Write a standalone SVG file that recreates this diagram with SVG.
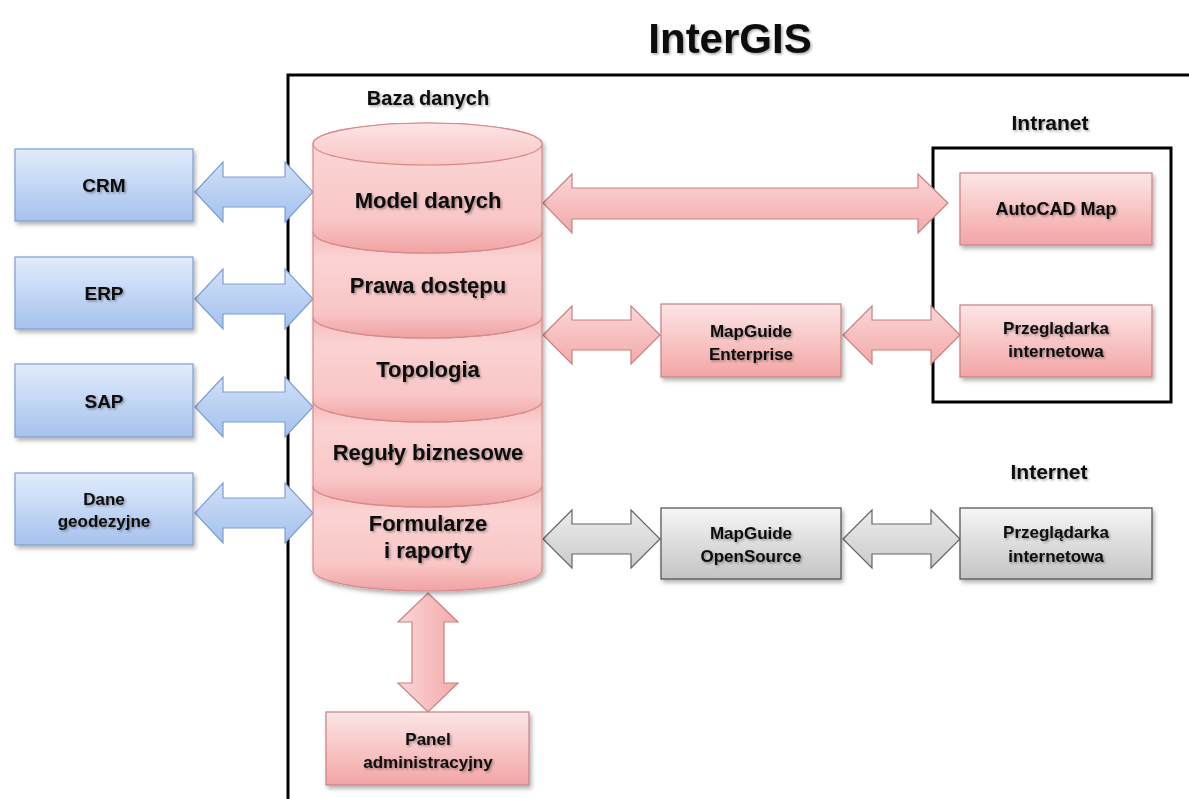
<svg xmlns="http://www.w3.org/2000/svg" width="1189" height="799" viewBox="0 0 1189 799">
<defs>
<linearGradient id="gBlue" x1="0" y1="0" x2="0" y2="1"><stop offset="0" stop-color="#e1ecfc"/><stop offset="1" stop-color="#a6c2ed"/></linearGradient>
<linearGradient id="gPink" x1="0" y1="0" x2="0" y2="1"><stop offset="0" stop-color="#fde6e6"/><stop offset="1" stop-color="#f3a5a5"/></linearGradient>
<linearGradient id="gGray" x1="0" y1="0" x2="0" y2="1"><stop offset="0" stop-color="#f6f6f6"/><stop offset="1" stop-color="#c4c4c4"/></linearGradient>
<linearGradient id="gSeg" x1="0" y1="0" x2="0" y2="1"><stop offset="0" stop-color="#f6b9b9"/><stop offset="0.25" stop-color="#fbd3d3"/><stop offset="0.75" stop-color="#f9c6c6"/><stop offset="1" stop-color="#f1a2a2"/></linearGradient>
<linearGradient id="gTop" x1="0" y1="0" x2="0" y2="1"><stop offset="0" stop-color="#fde4e4"/><stop offset="1" stop-color="#f8c4c4"/></linearGradient>
<linearGradient id="gArrP" x1="0" y1="0" x2="0" y2="1"><stop offset="0" stop-color="#fbd6d6"/><stop offset="1" stop-color="#f3aaaa"/></linearGradient>
<linearGradient id="gArrPV" x1="0" y1="0" x2="1" y2="0"><stop offset="0" stop-color="#fbd6d6"/><stop offset="1" stop-color="#f3aaaa"/></linearGradient>
<linearGradient id="gArrB" x1="0" y1="0" x2="0" y2="1"><stop offset="0" stop-color="#d0e0f8"/><stop offset="1" stop-color="#a4c1ed"/></linearGradient>
<linearGradient id="gArrG" x1="0" y1="0" x2="0" y2="1"><stop offset="0" stop-color="#ececec"/><stop offset="1" stop-color="#cbcbcb"/></linearGradient>
<filter id="sh" x="-10%" y="-10%" width="130%" height="140%"><feDropShadow dx="2" dy="3" stdDeviation="2" flood-color="#000" flood-opacity="0.3"/></filter>
<filter id="tsh" x="-10%" y="-20%" width="130%" height="160%"><feDropShadow dx="1.5" dy="1.5" stdDeviation="1.2" flood-color="#000" flood-opacity="0.35"/></filter>
</defs>
<style>
text{font-family:"Liberation Sans",Arial,sans-serif;font-weight:bold;fill:#0a0a0a;text-anchor:middle;filter:url(#tsh)}
.lbl{font-size:17px}
.big{font-size:19px}
.cyl{font-size:22px}
.hd{font-size:21px}
.boxB{fill:url(#gBlue);stroke:#7c9ed3;stroke-width:1.2;filter:url(#sh)}
.boxP{fill:url(#gPink);stroke:#c98080;stroke-width:1.2;filter:url(#sh)}
.boxG{fill:url(#gGray);stroke:#4d4d4d;stroke-width:1.2;filter:url(#sh)}
.seg{fill:url(#gSeg);stroke:#d48a8a;stroke-width:1.2}
.arrP{fill:url(#gArrP);stroke:#cc8080;stroke-width:1.2}
.arrB{fill:url(#gArrB);stroke:#7c9ed3;stroke-width:1.2}
.arrG{fill:url(#gArrG);stroke:#666;stroke-width:1.2}
.frame{fill:none;stroke:#000;stroke-width:3}
</style>
<rect width="1189" height="799" fill="#fff"/>
<text x="730" y="53" style="font-size:42px">InterGIS</text>
<path class="frame" d="M288,799 L288,75 L1189,75"/>
<g id="intranet">
<rect class="frame" x="933" y="148" width="238" height="254"/>
<text class="hd" x="1050" y="130">Intranet</text>
</g>
<text class="hd" x="1049" y="479">Internet</text>
<g id="connectors">
<path class="arrB" d="M195,192 L223,162 L223,177 L285,177 L285,162 L313,192 L285,222 L285,207 L223,207 L223,222 Z"/>
<path class="arrB" d="M195,299 L223,269 L223,284 L285,284 L285,269 L313,299 L285,329 L285,314 L223,314 L223,329 Z"/>
<path class="arrB" d="M195,407 L223,377 L223,392 L285,392 L285,377 L313,407 L285,437 L285,422 L223,422 L223,437 Z"/>
<path class="arrB" d="M195,513 L223,483 L223,498 L285,498 L285,483 L313,513 L285,543 L285,528 L223,528 L223,543 Z"/>
<path class="arrP" d="M543,203 L572,174 L572,188 L918,188 L918,174 L948,203 L918,233 L918,219 L572,219 L572,233 Z"/>
<path class="arrP" d="M543,335 L572,306 L572,320 L631,320 L631,306 L660,335 L631,364 L631,350 L572,350 L572,364 Z"/>
<path class="arrP" d="M843,335 L872,306 L872,320 L931,320 L931,306 L960,335 L931,364 L931,350 L872,350 L872,364 Z"/>
<path class="arrG" d="M543,539 L572,510 L572,524 L631,524 L631,510 L660,539 L631,568 L631,554 L572,554 L572,568 Z"/>
<path class="arrG" d="M843,539 L872,510 L872,524 L931,524 L931,510 L960,539 L931,568 L931,554 L872,554 L872,568 Z"/>
<path style="fill:url(#gArrPV);stroke:#cc8080;stroke-width:1.2" d="M428,593 L458,622 L444,622 L444,683 L458,683 L428,712 L398,683 L412,683 L412,622 L398,622 Z"/>
</g>
<g id="baza-danych">
<text x="428" y="105" style="font-size:20px">Baza danych</text>
<g filter="url(#sh)">
<path class="seg" d="M313,486 A114.5,21 0 0 0 542,486 L542,570 A114.5,21 0 0 1 313,570 Z"/>
<path class="seg" d="M313,401 A114.5,21 0 0 0 542,401 L542,486 A114.5,21 0 0 1 313,486 Z"/>
<path class="seg" d="M313,317 A114.5,21 0 0 0 542,317 L542,401 A114.5,21 0 0 1 313,401 Z"/>
<path class="seg" d="M313,232 A114.5,21 0 0 0 542,232 L542,317 A114.5,21 0 0 1 313,317 Z"/>
<path class="seg" d="M313,144 A114.5,21 0 0 1 542,144 L542,232 A114.5,21 0 0 1 313,232 Z"/>
<ellipse cx="427.5" cy="144" rx="114.5" ry="21" fill="url(#gTop)" stroke="#d48a8a" stroke-width="1.2"/>
</g>
<text class="cyl" x="428" y="208">Model danych</text>
<text class="cyl" x="428" y="293">Prawa dostępu</text>
<text class="cyl" x="428" y="377">Topologia</text>
<text class="cyl" x="428" y="460">Reguły biznesowe</text>
<text class="cyl" x="428" y="531">Formularze</text>
<text class="cyl" x="428" y="558">i raporty</text>
</g>
<g id="crm"><rect class="boxB" x="15" y="149" width="178" height="72"/><text class="big" x="104" y="192">CRM</text></g>
<g id="erp"><rect class="boxB" x="15" y="257" width="178" height="72"/><text class="big" x="104" y="300">ERP</text></g>
<g id="sap"><rect class="boxB" x="15" y="364" width="178" height="73"/><text class="big" x="104" y="408">SAP</text></g>
<g id="dane-geodezyjne"><rect class="boxB" x="15" y="473" width="178" height="72"/><text class="lbl" x="104" y="505">Dane</text><text class="lbl" x="104" y="527">geodezyjne</text></g>
<g id="autocad-map"><rect class="boxP" x="960" y="173" width="192" height="72"/><text class="lbl" x="1056" y="215" style="font-size:18px">AutoCAD Map</text></g>
<g id="przegladarka-intranet"><rect class="boxP" x="960" y="305" width="192" height="72"/><text class="lbl" x="1056" y="334">Przeglądarka</text><text class="lbl" x="1056" y="357">internetowa</text></g>
<g id="mapguide-enterprise"><rect class="boxP" x="661" y="304" width="180" height="73"/><text class="lbl" x="751" y="337">MapGuide</text><text class="lbl" x="751" y="360">Enterprise</text></g>
<g id="mapguide-opensource"><rect class="boxG" x="661" y="508" width="180" height="71"/><text class="lbl" x="751" y="539">MapGuide</text><text class="lbl" x="751" y="562">OpenSource</text></g>
<g id="przegladarka-internet"><rect class="boxG" x="960" y="508" width="192" height="71"/><text class="lbl" x="1056" y="538">Przeglądarka</text><text class="lbl" x="1056" y="562">internetowa</text></g>
<g id="panel-administracyjny"><rect class="boxP" x="326" y="712" width="203" height="73"/><text class="lbl" x="428" y="745">Panel</text><text class="lbl" x="428" y="768">administracyjny</text></g>
</svg>
